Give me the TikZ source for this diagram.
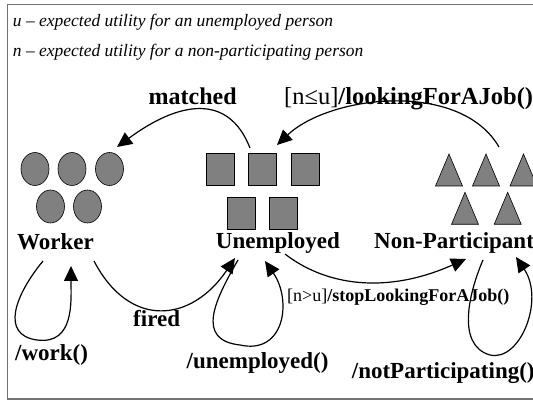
\documentclass[tikz,border=0pt]{standalone}
\usepackage{fontspec}
\setmainfont{Liberation Serif}
\usepackage{tikz}
\usetikzlibrary{shapes.geometric, arrows.meta}

\definecolor{framegray}{gray}{0.45}
\definecolor{tokengray}{gray}{0.5}

\begin{document}
\begin{tikzpicture}[x=1pt, y=-1pt,
    token/.style={draw=black, fill=tokengray, line width=0.6pt, inner sep=0pt},
    workertoken/.style={token, ellipse, minimum width=28pt, minimum height=33pt},
    unemptoken/.style={token, rectangle, minimum width=28pt, minimum height=32pt},
    txt/.style={anchor=base west, inner sep=0pt},
    big/.style={txt, font=\fontsize{23}{27}\selectfont\bfseries},
    trans/.style={line width=1.2pt, -{Triangle[length=15pt, width=14pt]}}]
    \useasboundingbox (0,0) rectangle (533,403);

    % frame, open to the right
    \draw[framegray, line width=1.4pt] (7.5,4.5) rectangle (560,399);

    % legend
    \node[txt, font=\fontsize{17.5}{20}\selectfont\itshape] (legendu) at (12.7,26.7) {u -- expected utility for an unemployed person};
    \node[txt, font=\fontsize{17.5}{20}\selectfont\itshape] (legendn) at (12.7,56.5) {n -- expected utility for a non-participating person};

    % tokens of the three states
    \foreach \n/\x/\y in {w1/35/169, w2/72/169, w3/109.5/169, w4/50.5/206.5, w5/87.5/206.5}
        \node[workertoken] (\n) at (\x,\y) {};
    \foreach \n/\x/\y in {u1/220/169, u2/262.7/169, u3/305/169, u4/241.3/213, u5/283.7/213}
        \node[unemptoken] (\n) at (\x,\y) {};
    \foreach \n/\x/\y in {n1/449/154, n2/486/154, n3/523.5/154, n4/465/192.3, n5/507.7/192.3} {
        \coordinate (\n) at (\x,\y);
        \draw[token] (\n) -- ++(13.5,32) -- ++(-27,0) -- cycle;
    }

    % state names
    \node[big] (worker) at (17,249.5) {Worker};
    \node[big] (unemployed) at (215.7,249) {Unemployed};
    \node[big] (nonpart) at (374,248.5) {Non-Participant};

    % ends of the transitions
    \coordinate (matchedfrom) at (250,148);
    \coordinate (matchedto) at (117,147);
    \coordinate (lookfrom) at (499,147);
    \coordinate (lookto) at (277,145);
    \coordinate (firedfrom) at (94,261);
    \coordinate (firedto) at (235,258);
    \coordinate (stopfrom) at (285,254);
    \coordinate (stopto) at (466,259);
    \coordinate (workfrom) at (43,261);
    \coordinate (workto) at (71,266);
    \coordinate (unempfrom) at (238,260);
    \coordinate (unempto) at (265,261);
    \coordinate (notpartfrom) at (483,260);
    \coordinate (notpartto) at (516,257);

    % transitions
    \draw[trans] (matchedfrom) .. controls (228,92) and (178,102) .. (matchedto);
    \draw[trans] (lookfrom) .. controls (460,80) and (330,95) .. (lookto);
    \draw[trans] (firedfrom) .. controls (130,330) and (192,322) .. (firedto);
    \draw[trans] (stopfrom) .. controls (325,285) and (385,295) .. (stopto);

    % self loops
    \draw[trans] (workfrom) .. controls (15,295) and (0,335) .. (37,340) .. controls (75,345) and (71,300) .. (workto);
    \draw[trans] (unempfrom) .. controls (215,300) and (195,340) .. (240,345) .. controls (285,355) and (292,300) .. (unempto);
    \draw[trans] (notpartfrom) .. controls (470,290) and (455,345) .. (490,355) .. controls (520,362) and (545,300) .. (notpartto);

    % transition labels
    \node[big, font=\fontsize{24}{28}\selectfont\bfseries] (matched) at (148.5,104.5) {matched};
    \node[big, font=\fontsize{24.5}{28}\selectfont] (looking) at (284,104.5) {[n≤u]\textbf{/lookingForAJob()}};
    \node[big] (fired) at (133,327) {fired};
    \node[txt, font=\fontsize{18}{21}\selectfont] (stoplooking) at (287,302) {[n>u]\textbf{/stopLookingForAJob()}};
    \node[big] (work) at (15,360.5) {/work()};
    \node[big] (unempcall) at (186.5,368.5) {/unemployed()};
    \node[big] (notpartcall) at (351.7,378) {/notParticipating()};
\end{tikzpicture}
\end{document}
